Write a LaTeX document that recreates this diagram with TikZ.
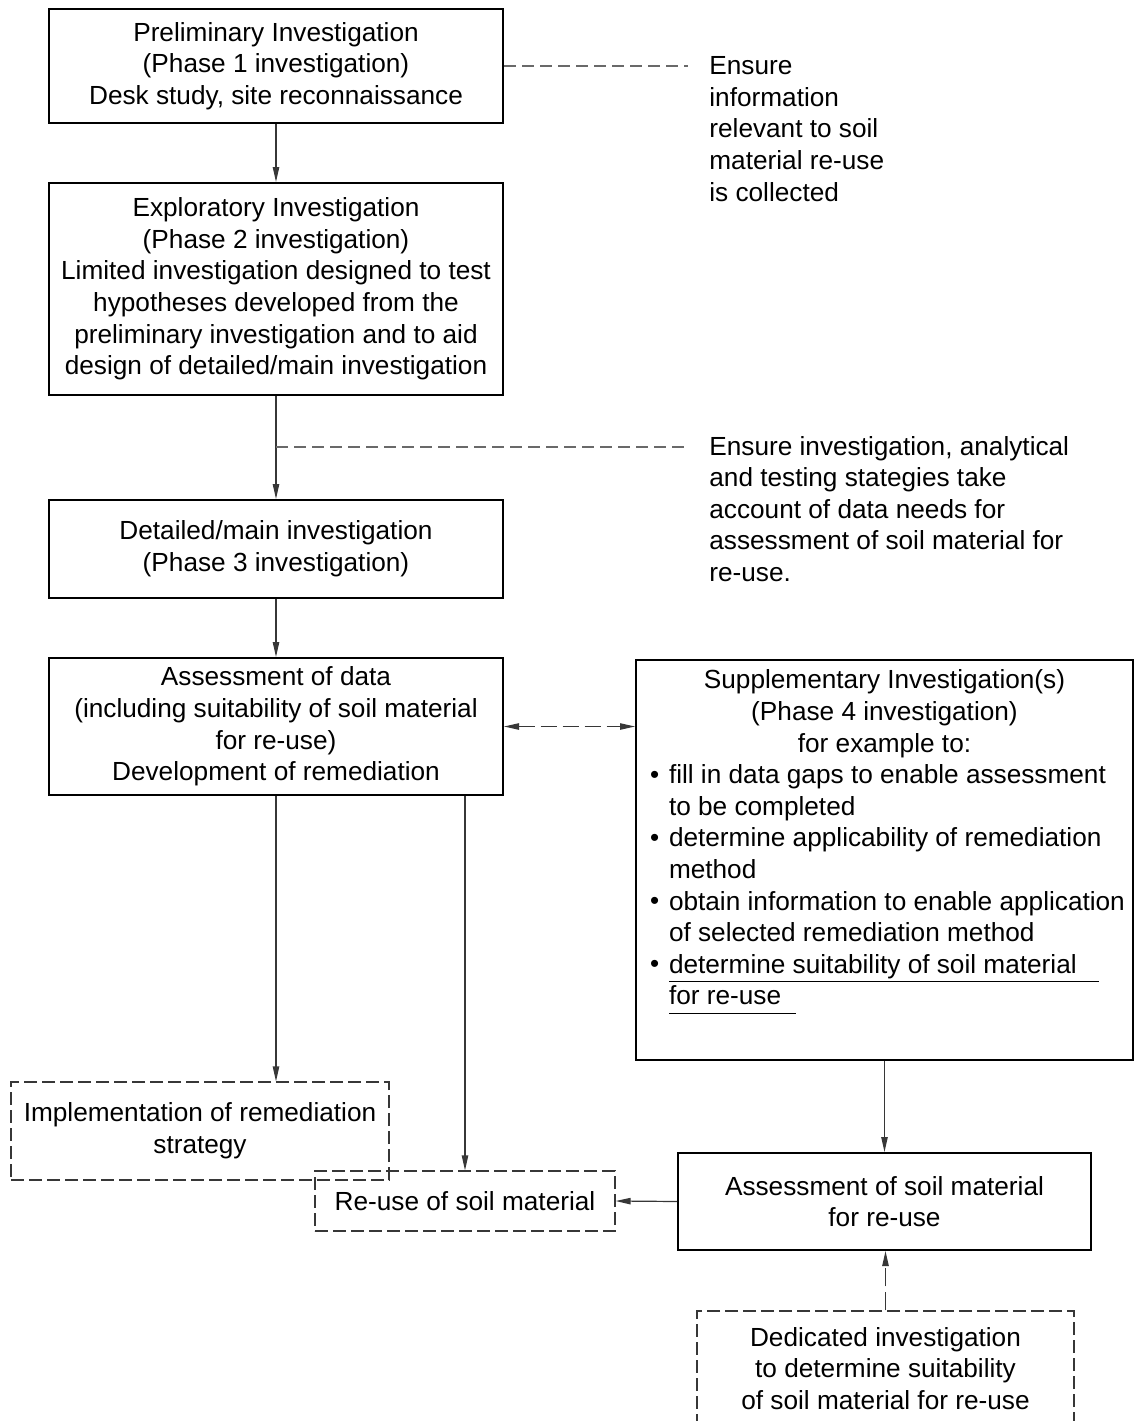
\documentclass[tikz,border=0pt]{standalone}
\usepackage{fontspec}
\setmainfont{Liberation Sans}
\usetikzlibrary{arrows.meta}
\definecolor{LineGrey}{RGB}{55,55,55}
\definecolor{NoteGrey}{RGB}{105,105,105}
\newcommand{\bulitem}{\hspace*{4.75pt}\makebox[9.5pt][l]{\raisebox{0.2pt}{\fontsize{13}{13}\selectfont\textbullet}}}
\newcommand{\bulcont}{\hspace*{14.25pt}}

\begin{document}
\begin{tikzpicture}[x=0.5pt, y=-0.5pt,
    every node/.style={font=\fontsize{13.1}{15.8}\selectfont},
    box/.style={draw, line width=1pt, align=center, inner sep=0pt},
    dbox/.style={draw=LineGrey, line width=0.6pt, dash pattern=on 6.5pt off 2.5pt, align=center, inner sep=0pt},
    conn/.style={draw=LineGrey, line width=0.6pt, -{Triangle[length=7.5pt, width=3.2pt]}},
    note/.style={draw=NoteGrey, line width=0.6pt, dash pattern=on 6pt off 3pt},
    notetext/.style={align=left, anchor=west, inner sep=0pt}]
    \useasboundingbox (0,0) rectangle (1134,1421);

    % Main column
    \node[box, minimum width=227pt, minimum height=57pt] (prelim) at (276,66)
      {Preliminary Investigation\\(Phase 1 investigation)\\Desk study, site reconnaissance};
    \node[box, minimum width=227pt, minimum height=106pt] (explo) at (276,289)
      {Exploratory Investigation\\(Phase 2 investigation)\\Limited investigation designed to test\\hypotheses developed from the\\preliminary investigation and to aid\\design of detailed/main investigation};
    \node[box, minimum width=227pt, minimum height=49pt] (detail) at (276,549)
      {Detailed/main investigation\\(Phase 3 investigation)};
    \node[box, minimum width=227pt, minimum height=68.5pt] (assess) at (276,726.5)
      {Assessment of data\\(including suitability of soil material\\for re-use)\\Development of remediation};

    % Supplementary investigation
    \node[box, minimum width=248.5pt, minimum height=200pt, inner xsep=2.25pt, inner ysep=5pt] (supp) at (884.5,860)
      {\parbox[c][190pt][t]{244pt}{\centering
        Supplementary Investigation(s)\\(Phase 4 investigation)\\for example to:\par
        \raggedright
        \bulitem fill in data gaps to enable assessment\\
        \bulcont to be completed\\
        \bulitem determine applicability of remediation\\
        \bulcont method\\
        \bulitem obtain information to enable application\\
        \bulcont of selected remediation method\\
        \bulitem \underline{\vphantom{y}determine suitability of soil material\ \ \ }\\
        \bulcont \underline{\vphantom{y}for re-use\ \ }}};

    % Outcomes
    \node[dbox, minimum width=189pt, minimum height=49pt] (impl) at (200,1131)
      {Implementation of remediation\\strategy};
    \node[dbox, minimum width=150pt, minimum height=30pt] (reuse) at (465,1201)
      {Re-use of soil material};
    \node[box, minimum width=206.5pt, minimum height=48.5pt] (soil) at (884.5,1201.5)
      {Assessment of soil material\\for re-use};
    \node[dbox, minimum width=188.5pt, minimum height=57.5pt] (dedic) at (885.5,1368.5)
      {Dedicated investigation\\to determine suitability\\of soil material for re-use};

    % Notes
    \node[notetext] (note1) at (709,129)
      {Ensure\\information\\relevant to soil\\material re-use\\is collected};
    \node[notetext] (note2) at (709,509)
      {Ensure investigation, analytical\\and testing stategies take\\account of data needs for\\assessment of soil material for\\re-use.};
    \coordinate (n1) at (688,66);
    \coordinate (n2) at (688,447);

    % Connectors
    \draw[conn] (prelim.south) -- (explo.north);
    \draw[conn] (explo.south) -- (detail.north);
    \draw[conn] (detail.south) -- (assess.north);
    \draw[conn, {Triangle[length=7.5pt, width=3.2pt]}-{Triangle[length=7.5pt, width=3.2pt]}, dash pattern=on 8pt off 3pt]
      (assess.east) -- (assess.east -| supp.west);
    \draw[conn] (assess.south) -- (assess.south |- impl.north);
    \draw[conn] (assess.south -| reuse.north) -- (reuse.north);
    \draw[conn] (supp.south) -- (soil.north);
    \draw[conn] (soil.west) -- (reuse.east);
    \draw[conn, dash pattern=on 9pt off 3pt] (dedic.north) -- (dedic.north |- soil.south);

    % Note lines
    \draw[note] (prelim.east) -- (n1);
    \draw[note] (explo.south |- n2) -- (n2);
  \end{tikzpicture}
\end{document}
